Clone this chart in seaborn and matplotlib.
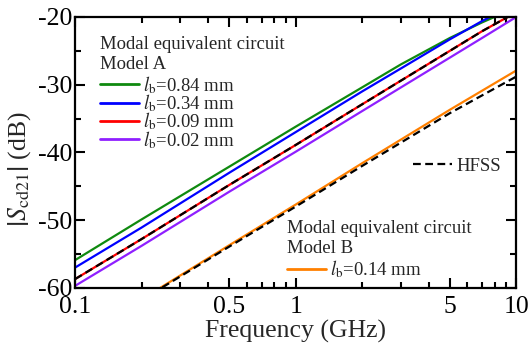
import pandas as pd
import matplotlib.pyplot as plt
import seaborn as sns
from matplotlib.lines import Line2D
from matplotlib.ticker import FixedLocator, FixedFormatter, NullFormatter

# frequency points (GHz) and |Scd21| (dB)
freq = [0.1, 0.2, 0.5, 1, 2, 3, 5, 7, 10]
lb_084 = [-55.9, -49.9, -42.1, -36.2, -30.4, -27.0, -23.1, -20.8, -18.6]
lb_034 = [-57.0, -51.1, -43.0, -37.0, -31.0, -27.6, -23.3, -20.6, -18.0]
lb_009 = [-58.7, -52.8, -44.8, -38.9, -32.9, -29.4, -25.0, -22.1, -19.3]
lb_002 = [-59.7, -53.8, -45.8, -39.9, -33.9, -30.4, -26.0, -23.1, -20.0]
hfss_a = [-58.7, -52.8, -44.8, -38.9, -32.9, -29.4, -25.0, -22.1, -19.3]

freq_b = [0.2, 0.5, 1, 2, 5, 10]
lb_014 = [-61.7, -53.7, -47.7, -41.6, -33.7, -27.9]
hfss_b = [-61.8, -53.9, -48.0, -42.0, -34.2, -28.8]

labels_a = ["0.84", "0.34", "0.09", "0.02"]
colors_a = ["#0f8a0f", "#0000ff", "#ff0000", "#8f1fff"]
color_b = "#ff8000"

x_ticks = [0.1, 0.5, 1, 5, 10]
x_ticklabels = ["0.1", "0.5", "1", "5", "10"]
y_ticks = [-60, -50, -40, -30, -20]

sns.set_theme(style="ticks")
plt.rcParams["font.family"] = ["Liberation Serif", "DejaVu Serif"]
plt.rcParams["mathtext.fontset"] = "stix"
plt.rcParams["axes.unicode_minus"] = False

fig = plt.figure(figsize=(5.29, 3.46), dpi=100)
ax = fig.add_axes([0.142, 0.168, 0.834, 0.783])

model_a = [lb_084, lb_034, lb_009, lb_002]
for vals, col in zip(model_a, colors_a):
    sns.lineplot(x=freq, y=vals, color=col, lw=1.6, ax=ax)
sns.lineplot(x=freq_b, y=lb_014, color=color_b, lw=1.6, ax=ax)

dash = (0, (3.5, 2))
sns.lineplot(x=freq, y=hfss_a, color="black", lw=1.6, linestyle=dash, ax=ax)
sns.lineplot(x=freq_b, y=hfss_b, color="black", lw=1.6, linestyle=dash, ax=ax)

ax.set_xscale("log")
ax.set_xlim(0.1, 10)
ax.set_ylim(-60, -20)
ax.xaxis.set_major_locator(FixedLocator(x_ticks))
ax.xaxis.set_major_formatter(FixedFormatter(x_ticklabels))
minor_x = [0.2, 0.3, 0.4, 0.6, 0.7, 0.8, 0.9, 2, 3, 4, 6, 7, 8, 9]
ax.xaxis.set_minor_locator(FixedLocator(minor_x))
ax.xaxis.set_minor_formatter(NullFormatter())
ax.yaxis.set_major_locator(FixedLocator(y_ticks))
ax.yaxis.set_minor_locator(FixedLocator([-55, -45, -35, -25]))

ax.tick_params(which="both", direction="in", top=True, right=True,
               width=1.5, labelsize=18.5, colors="black")
ax.tick_params(which="major", length=7.5)
ax.tick_params(which="minor", length=4.5)
ax.tick_params(axis="x", pad=6)
ax.tick_params(axis="y", pad=2)
for sp in ax.spines.values():
    sp.set_linewidth(1.6)
    sp.set_color("black")

ax.set_xlabel("Frequency (GHz)", fontsize=18.5, labelpad=1)
ax.set_ylabel(r"$\left|S_{\rm cd21}\right|$ (dB)", fontsize=18.5)
ax.yaxis.set_label_coords(-0.095, 0.44)

leg_kw = dict(frameon=False, fontsize=13.5, title_fontsize=13.5, alignment="left",
              handlelength=2.05, handletextpad=0.25, labelspacing=-0.18,
              borderpad=0, borderaxespad=0, loc="upper left")

h_a = [Line2D([], [], color=c, lw=2) for c in colors_a]
l_a = [r"$l_{\rm b}$=" + s + " mm" for s in labels_a]
leg_a = ax.legend(h_a, l_a, title="Modal equivalent circuit\nModel A",
                  bbox_to_anchor=(0.057, 0.93), **leg_kw)
leg_a._legend_box.sep = 1
ax.add_artist(leg_a)

h_h = [Line2D([], [], color="black", lw=1.6, linestyle=dash)]
leg_h = ax.legend(h_h, ["HFSS"], bbox_to_anchor=(0.766, 0.48), **leg_kw)
ax.add_artist(leg_h)

h_b = [Line2D([], [], color=color_b, lw=2)]
leg_b = ax.legend(h_b, [r"$l_{\rm b}$=0.14 mm"], title="Modal equivalent circuit\nModel B",
                  bbox_to_anchor=(0.481, 0.25), **leg_kw)
leg_b._legend_box.sep = 1

fig.savefig("out.png", dpi=100)
